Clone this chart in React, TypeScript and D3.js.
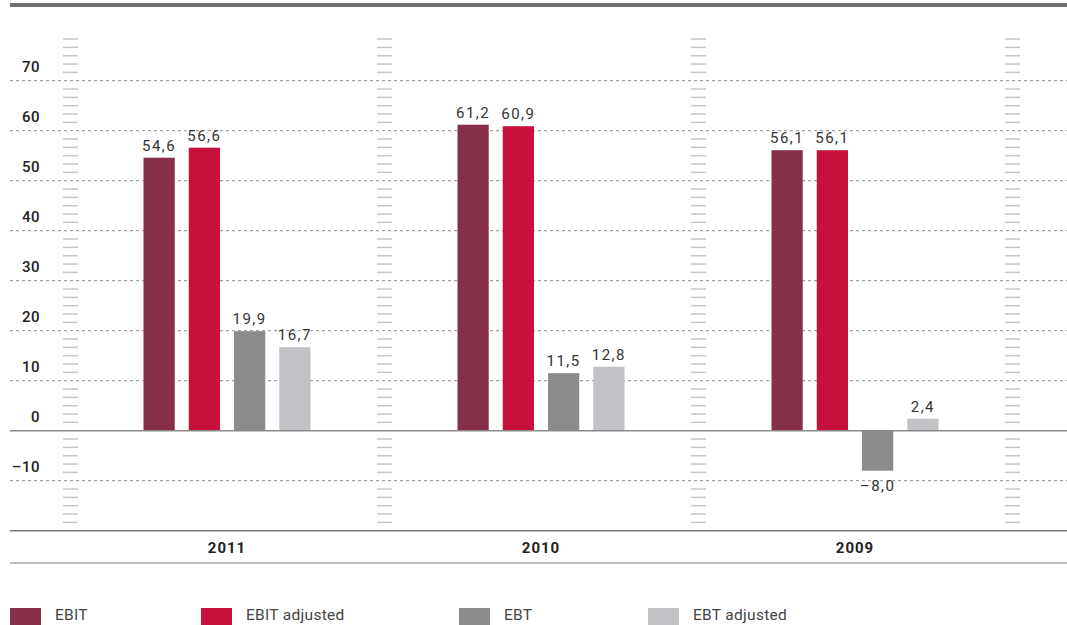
import React from "react";
import * as d3 from "d3";

const years = ["2011", "2010", "2009"];
const seriesNames = ["EBIT", "EBIT adjusted", "EBT", "EBT adjusted"];
const seriesColors = ["#862f48", "#c8103e", "#8a8b8d", "#c1c2c5"];
const ebit = [54.6, 61.2, 56.1];
const ebitAdjusted = [56.6, 60.9, 56.1];
const ebt = [19.9, 11.5, -8.0];
const ebtAdjusted = [16.7, 12.8, 2.4];
const yTicks = [-10, 0, 10, 20, 30, 40, 50, 60, 70];

const series = [ebit, ebitAdjusted, ebt, ebtAdjusted];

const fmt = (v: number) =>
  (v < 0 ? "\u2013" : "") + Math.abs(v).toFixed(1).replace(".", ",");

export default function App() {
  const width = 1067;
  const height = 625;
  const left = 10;

  // year bands, ladder columns sit on the band edges
  const x = d3.scaleBand().domain(years).range([70, 1012]);
  const inner = d3
    .scaleBand()
    .domain(seriesNames)
    .range([0, 167])
    .paddingInner(0.31);
  const y = d3.scaleLinear().domain([-20, 80]).range([530.7, 30.7]);

  const edges = [70, ...years.map((yr) => x(yr)! + x.bandwidth())];
  // minor ticks every 10/6 units, skipping the gridlines
  const minor: number[] = [];
  for (let i = 1; i < 60; i++) {
    if (i % 6 !== 0) minor.push(-20 + (i * 10) / 6);
  }

  const font = "Roboto, 'DejaVu Sans', sans-serif";

  return (
    <svg width={width} height={height} style={{ display: "block", position: "absolute", left: 0, top: 0 }}>
      <rect x={left} y={3} width={width - left} height={4} fill="#6d6e70" />

      {/* dashed gridlines */}
      {yTicks
        .filter((t) => t !== 0)
        .map((t) => (
          <line
            key={"g" + t}
            x1={left}
            x2={width}
            y1={y(t)}
            y2={y(t)}
            stroke="#8c8c8c"
            strokeWidth={1}
            strokeDasharray="3,3"
          />
        ))}

      {/* ladder ticks */}
      {edges.map((ex, i) =>
        minor.map((m) => (
          <line
            key={"m" + i + "_" + m}
            x1={ex - 7}
            x2={ex + 8}
            y1={y(m)}
            y2={y(m)}
            stroke="#c9c6bf"
            strokeWidth={1.5}
          />
        ))
      )}

      {/* y labels */}
      {yTicks.map((t) => (
        <text
          key={"l" + t}
          x={40}
          y={y(t) - 9}
          textAnchor="end"
          fontFamily={font}
          fontSize={15}
          fontWeight={500}
          fill="#222"
          letterSpacing={0.5}
        >
          {t < 0 ? "\u2013" + Math.abs(t) : t}
        </text>
      ))}

      {/* bars */}
      {years.map((yr, yi) =>
        series.map((s, si) => {
          const v = s[yi];
          const bx = x(yr)! + (x.bandwidth() - 167) / 2 + inner(seriesNames[si])!;
          const y0 = y(Math.max(0, v));
          const h = Math.abs(y(v) - y(0));
          return (
            <g key={yr + si}>
              <rect x={bx} y={y0} width={inner.bandwidth()} height={h} fill={seriesColors[si]} />
              <text
                x={bx + inner.bandwidth() / 2}
                y={v >= 0 ? y(v) - 7 : y(v) + 20}
                textAnchor="middle"
                fontFamily={font}
                fontSize={15}
                fill="#333"
                letterSpacing={1.5}
              >
                {fmt(v)}
              </text>
            </g>
          );
        })
      )}

      {/* zero line and frame lines */}
      <line x1={left} x2={width} y1={y(0)} y2={y(0)} stroke="#8a8a8a" strokeWidth={1.5} />
      <line x1={left} x2={width} y1={y(-20)} y2={y(-20)} stroke="#7a7a7a" strokeWidth={1.5} />
      <line x1={left} x2={width} y1={563} y2={563} stroke="#7a7a7a" strokeWidth={1.2} />

      {years.map((yr) => (
        <text
          key={"y" + yr}
          x={x(yr)! + x.bandwidth() / 2}
          y={553}
          textAnchor="middle"
          fontFamily={font}
          fontSize={15}
          fontWeight={700}
          fill="#222"
          letterSpacing={1}
        >
          {yr}
        </text>
      ))}

      {/* legend */}
      {seriesNames.map((n, i) => {
        const lx = [10, 201, 459, 648][i];
        return (
          <g key={"lg" + n}>
            <rect x={lx} y={608} width={31} height={20} fill={seriesColors[i]} />
            <text x={lx + 45} y={620} fontFamily={font} fontSize={15.5} fill="#444" letterSpacing={0.3}>
              {n}
            </text>
          </g>
        );
      })}
    </svg>
  );
}
